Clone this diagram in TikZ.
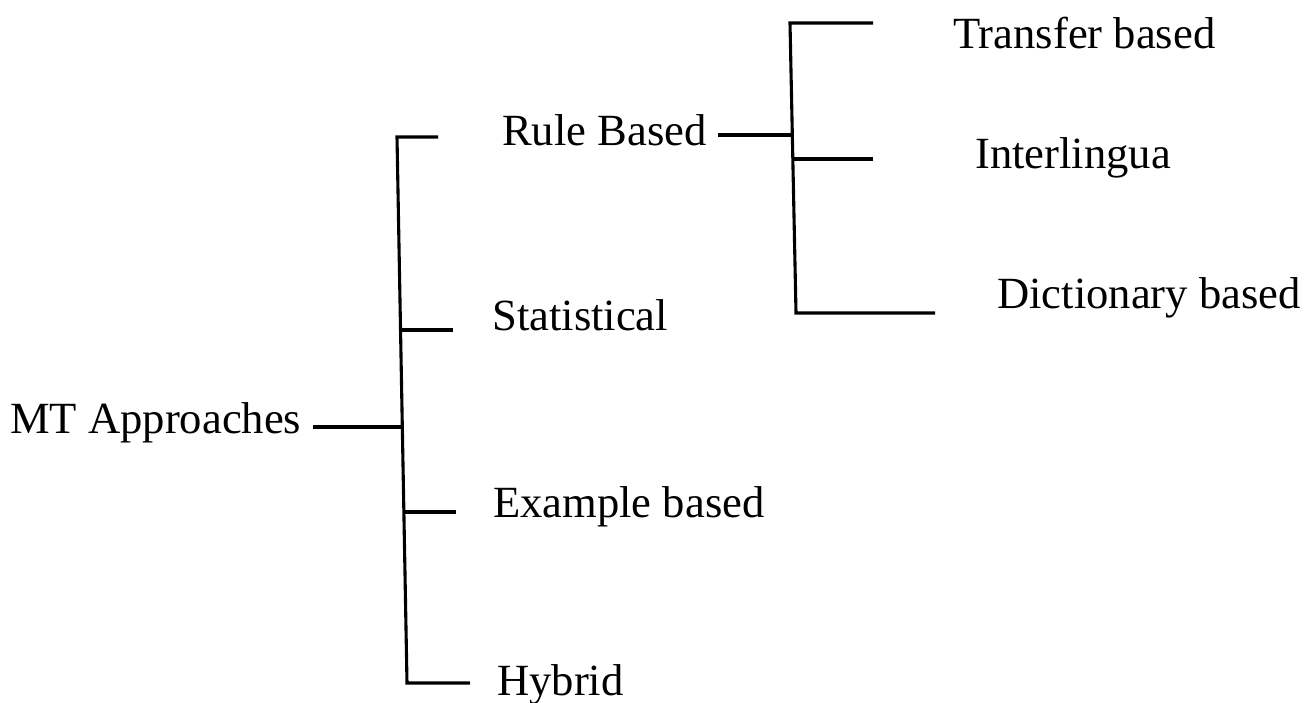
\documentclass[tikz,border=0pt]{standalone}
\usepackage{fontspec}
\setmainfont{Liberation Serif}
\begin{document}
\begin{tikzpicture}[x=1pt,y=-1pt,
  lbl/.style={anchor=base west, inner sep=0pt, font=\fontsize{44.6}{50}\selectfont},
  link/.style={line width=3.1pt, line join=miter, black}]
\useasboundingbox (0,0) rectangle (1313,702);
% labels
\node[lbl] (mt)    at (10,433)  {MT Approaches};
\node[lbl] (rule)  at (502,145) {Rule Based};
\node[lbl] (stat)  at (492,330) {Statistical};
\node[lbl] (ex)    at (493,517) {Example based};
\node[lbl] (hyb)   at (497,695) {Hybrid};
\node[lbl] (tr)    at (953,48)  {Transfer based};
\node[lbl] (inter) at (975,168) {Interlingua};
\node[lbl] (dict)  at (997,308) {Dictionary based};
% connector end points
\coordinate (mtE)   at (313,427);
\coordinate (jMT)   at (404,427);
\coordinate (tTop)  at (397,137);
\coordinate (tBot)  at (407,683);
\coordinate (ruleW) at (438,137);
\coordinate (jStat) at (399,330);
\coordinate (statW) at (453,330);
\coordinate (jEx)   at (404,512);
\coordinate (exW)   at (456,512);
\coordinate (hybW)  at (470,683);
\coordinate (ruleE) at (718,135);
\coordinate (jRule) at (793,135);
\coordinate (sTop)  at (790,23);
\coordinate (sBot)  at (796,313);
\coordinate (trW)   at (873,23);
\coordinate (jInt)  at (793,159);
\coordinate (intW)  at (873,159);
\coordinate (dictW) at (935,313);
% connectors
\draw[link] (mtE) -- (jMT);
\draw[link] (ruleW) -- (tTop) -- (tBot) -- (hybW);
\draw[link] (jStat) -- (statW);
\draw[link] (jEx) -- (exW);
\draw[link] (ruleE) -- (jRule);
\draw[link] (trW) -- (sTop) -- (sBot) -- (dictW);
\draw[link] (jInt) -- (intW);
\end{tikzpicture}
\end{document}
